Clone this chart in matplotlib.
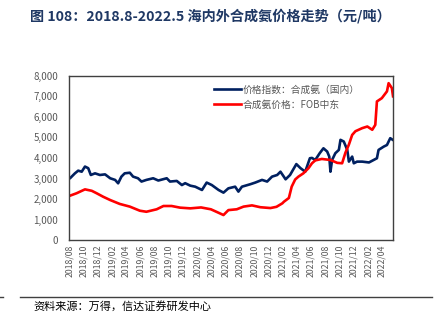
import matplotlib
matplotlib.use("Agg")
import matplotlib.pyplot as plt
import matplotlib.dates as mdates
from matplotlib.ticker import FuncFormatter, MultipleLocator
import pandas as pd

plt.rcParams['font.family'] = ['Noto Sans CJK SC', 'DejaVu Sans']

title = "图 108：2018.8-2022.5 海内外合成氨价格走势（元/吨）"
source = "资料来源：万得，信达证券研发中心"
label_dom = "价格指数：合成氨（国内）"
label_fob = "合成氨价格：FOB中东"

dom_dates = ["2018-08-01", "2018-08-04", "2018-08-25", "2018-09-08", "2018-09-23", "2018-10-07",
             "2018-10-21", "2018-11-01", "2018-11-19", "2018-12-10", "2019-01-01", "2019-01-23",
             "2019-02-13", "2019-02-26", "2019-03-12", "2019-03-26", "2019-04-17", "2019-05-01",
             "2019-05-22", "2019-06-06", "2019-06-27", "2019-07-26", "2019-08-17", "2019-09-22",
             "2019-10-06", "2019-11-04", "2019-11-26", "2019-12-10", "2020-01-01", "2020-01-22",
             "2020-02-20", "2020-03-11", "2020-04-02", "2020-05-01", "2020-05-22", "2020-06-12",
             "2020-07-11", "2020-07-25", "2020-08-09", "2020-09-14", "2020-10-05", "2020-11-03",
             "2020-11-25", "2020-12-16", "2021-01-07", "2021-01-21", "2021-02-12", "2021-03-03",
             "2021-03-30", "2021-04-17", "2021-05-07", "2021-05-27", "2021-06-05", "2021-06-19",
             "2021-07-08", "2021-07-24", "2021-08-09", "2021-08-18", "2021-08-23", "2021-08-30",
             "2021-09-13", "2021-09-28", "2021-10-05", "2021-10-19", "2021-11-03", "2021-11-10",
             "2021-11-24", "2021-12-01", "2021-12-15", "2022-01-06", "2022-02-04", "2022-02-24",
             "2022-03-10", "2022-03-17", "2022-04-08", "2022-04-22", "2022-05-06", "2022-05-17"]
dom_values = [3000, 3010, 3250, 3380, 3330, 3580,
              3500, 3170, 3250, 3170, 3200, 3010,
              2930, 2765, 3090, 3250, 3280, 3090,
              3010, 2850, 2930, 3010, 2900, 3010,
              2850, 2880, 2680, 2770, 2650, 2600,
              2440, 2800, 2680, 2440, 2310, 2520,
              2600, 2360, 2600, 2720, 2800, 2930,
              2850, 3090, 3170, 3330, 2960, 3170,
              3700, 3500, 3330, 3985, 4000, 3900,
              4230, 4470, 4310, 4065, 3330, 3900,
              4230, 4390, 4880, 4800, 4390, 3820,
              4065, 3740, 3820, 3820, 3780, 3900,
              3985, 4390, 4550, 4630, 4960, 4880]

fob_dates = ["2018-08-01", "2018-09-01", "2018-10-07", "2018-11-05", "2018-11-26", "2018-12-24",
             "2019-01-23", "2019-03-05", "2019-04-17", "2019-05-30", "2019-06-27", "2019-08-10",
             "2019-09-08", "2019-10-13", "2019-11-18", "2020-01-01", "2020-02-16", "2020-03-29",
             "2020-05-01", "2020-05-22", "2020-06-12", "2020-07-18", "2020-08-16", "2020-09-21",
             "2020-10-27", "2020-12-09", "2021-01-04", "2021-01-29", "2021-02-05", "2021-02-26",
             "2021-03-10", "2021-03-25", "2021-04-08", "2021-04-29", "2021-05-21", "2021-06-05",
             "2021-06-19", "2021-07-17", "2021-08-23", "2021-09-21", "2021-10-12", "2021-10-26",
             "2021-11-10", "2021-11-24", "2021-12-08", "2022-01-06", "2022-01-28", "2022-02-18",
             "2022-03-03", "2022-03-10", "2022-03-31", "2022-04-22", "2022-04-29", "2022-05-13",
             "2022-05-18"]
fob_values = [2150, 2280, 2470, 2400, 2280, 2110,
              1950, 1760, 1630, 1430, 1380, 1500,
              1660, 1660, 1580, 1545, 1590, 1500,
              1330, 1220, 1460, 1500, 1630, 1690,
              1600, 1560, 1620, 1790, 1870, 2050,
              2600, 2950, 3090, 3250, 3500, 3740,
              3880, 3950, 3900, 3760, 3740, 4250,
              4650, 5120, 5300, 5450, 5530, 5370,
              5610, 6750, 6910, 7240, 7640, 7400,
              7000]

fig = plt.figure(figsize=(4.36, 3.28), dpi=100)
ax = fig.add_axes([0.159, 0.268, 0.743, 0.501])

ax.plot(pd.to_datetime(dom_dates), dom_values, color="#002060", lw=1.9, label=label_dom)
ax.plot(pd.to_datetime(fob_dates), fob_values, color="#ff0000", lw=1.9, label=label_fob)

ax.set_ylim(0, 8000)
ax.yaxis.set_major_locator(MultipleLocator(1000))
ax.yaxis.set_major_formatter(FuncFormatter(lambda v, p: f"{int(v):,}"))
ax.set_xlim(pd.Timestamp("2018-08-01"), pd.Timestamp("2022-05-19"))
ax.xaxis.set_major_locator(mdates.MonthLocator(bymonth=[2, 4, 6, 8, 10, 12]))
ax.xaxis.set_major_formatter(mdates.DateFormatter("%Y/%m"))
ax.tick_params(axis='x', labelrotation=90, labelsize=6.3, colors="#595959", length=0, pad=3)
ax.tick_params(axis='y', labelsize=7, colors="#595959", length=0, pad=8)
for s in ax.spines.values():
    s.set_color("#404040")
    s.set_linewidth(1.0)

leg = ax.legend(loc="upper left", bbox_to_anchor=(0.435, 0.97), frameon=False,
                fontsize=7, handlelength=2.8, handletextpad=0.1, labelspacing=0.5,
                borderaxespad=0)
for t in leg.get_texts():
    t.set_color("#595959")

fig.text(30/436, 1 - 16/328, title, fontsize=10.2, fontweight="bold", color="#1f3864",
         va="center", ha="left")
fig.add_artist(plt.Line2D([20/436, 432/436], [1 - 297/328, 1 - 297/328],
                          color="#404040", lw=1.0, transform=fig.transFigure))
fig.add_artist(plt.Line2D([0, 3/436], [1 - 297/328, 1 - 297/328],
                          color="#404040", lw=1.0, transform=fig.transFigure))
fig.text(33/436, 1 - 306/328, source, fontsize=8, color="#000000", va="center", ha="left",
         fontstyle="italic")

fig.savefig("out.png", dpi=100)
